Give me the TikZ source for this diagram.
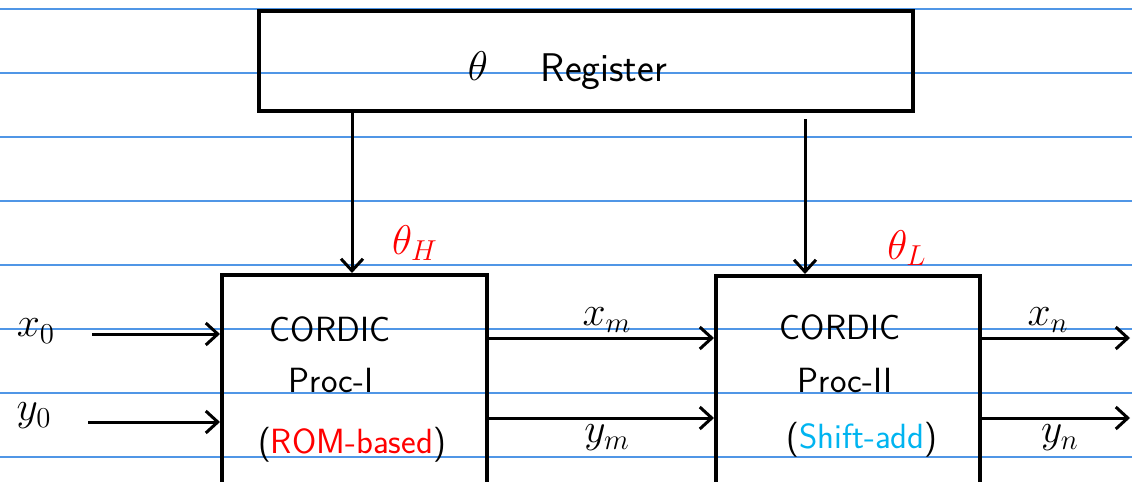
\documentclass[tikz,border=0pt]{standalone}
\usepackage{amsmath}
\usepackage{tikz}
\usepackage{xcolor}
\usetikzlibrary{arrows.meta}

\definecolor{ruleblue}{RGB}{80,150,230}
\definecolor{romred}{RGB}{255,0,0}
\definecolor{addblue}{RGB}{0,180,240}

\tikzset{
    block/.style={draw, line width=2pt, anchor=north west, inner sep=0pt},
    arr/.style={-{Straight Barb[length=6pt, width=11pt]}, line width=1.5pt},
    rule/.style={ruleblue, line width=0.6pt},
    txt/.style={font=\sffamily\fontsize{17.5}{20}\selectfont},
    sym/.style={font=\fontsize{22}{24}\selectfont}
}

\begin{document}
\begin{tikzpicture}[x=0.5pt, y=-0.5pt]
    \clip (0,0) rectangle (1132,482);

    % notebook lines
    \foreach \y in {9,73,137,201,265,329,393,457} {
        \draw[rule] (0,\y) -- (1132,\y);
    }

    % blocks
    \node[block, minimum width=327pt, minimum height=50pt] (reg) at (257,9) {};
    \node[block, minimum width=132.5pt, minimum height=130pt] (cp1) at (220,273) {};
    \node[block, minimum width=132pt, minimum height=130pt] (cp2) at (714,274) {};

    \node[sym] (regth) at (478,66) {$\theta$};
    \node[txt, font=\sffamily\fontsize{20}{22}\selectfont] (regtxt) at (604,72) {Register};

    \node[txt] (c1a) at (330,329) {CORDIC};
    \node[txt] (c1b) at (331,380) {Proc-I};
    \node[txt] (c1c) at (352,445) {(\textcolor{romred}{ROM-based})};

    \node[txt] (c2a) at (840,327) {CORDIC};
    \node[txt] (c2b) at (845,380) {Proc-II};
    \node[txt] (c2c) at (862,440) {(\textcolor{addblue}{Shift-add})};

    % angle parts
    \node[sym, romred] (thH) at (415,243) {$\theta_H$};
    \node[sym, romred] (thL) at (907,248) {$\theta_L$};
    \coordinate (h1) at (352,0);
    \coordinate (h2) at (805,0);
    \draw[arr] (reg.south -| h1) -- (cp1.north -| h1);
    \draw[arr] ([yshift=-3pt]reg.south -| h2) -- (cp2.north -| h2);

    % inputs
    \node[sym] (x0) at (36,331) {$x_0$};
    \node[sym] (y0) at (34,416) {$y_0$};
    \coordinate (x0s) at (92,334);
    \coordinate (y0s) at (88,422);
    \draw[arr] (x0s) -- (x0s -| cp1.west);
    \draw[arr] (y0s) -- (y0s -| cp1.west);

    % between processors
    \coordinate (xms) at (485,338);
    \coordinate (yms) at (485,418);
    \draw[arr] (xms -| cp1.east) -- (xms -| cp2.west);
    \draw[arr] (yms -| cp1.east) -- (yms -| cp2.west);
    \node[sym] (xm) at (607,320) {$x_m$};
    \node[sym] (ym) at (607,438) {$y_m$};

    % outputs
    \coordinate (xne) at (1132,338);
    \coordinate (yne) at (1132,418);
    \draw[arr] (xne -| cp2.east) -- ([xshift=-1pt]xne);
    \draw[arr] (yne -| cp2.east) -- ([xshift=-1pt]yne);
    \node[sym] (xn) at (1048,320) {$x_n$};
    \node[sym] (yn) at (1060,438) {$y_n$};
\end{tikzpicture}
\end{document}
